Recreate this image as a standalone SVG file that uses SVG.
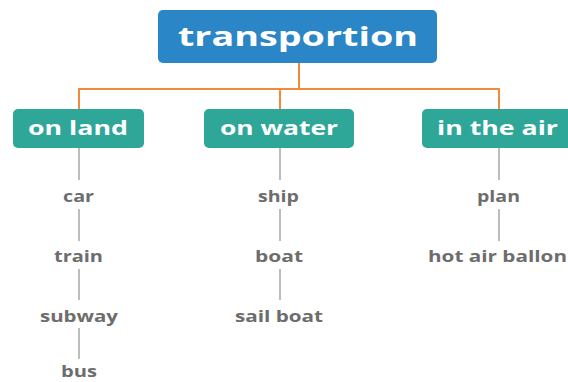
<svg xmlns="http://www.w3.org/2000/svg" width="568" height="382" viewBox="0 0 568 382">
<style>
.root{fill:#2a86c6}
.cat{fill:#2ea698}
.t{font-family:"Open Sans","Liberation Sans",sans-serif;font-weight:bold;text-anchor:middle}
.tw{fill:#ffffff}
.tg{fill:#6d6d6d;font-size:16px}
.or{stroke:#f08a3c;stroke-width:2;fill:none}
.gr{stroke:#9a9a9a;stroke-width:1.3;fill:none}
</style>
<rect width="568" height="382" fill="#ffffff"/>
<g id="connectors">
<path class="or" d="M299 63V89M79 89H499M79 88V109M280 88V109M499 88V109"/>
<path class="gr" d="M79 148V180M79 209V241M79 269V300M79 328V359"/>
<path class="gr" d="M280 148V180M280 209V241M280 269V300"/>
<path class="gr" d="M499 148V180M499 209V241"/>
</g>
<g id="transportion">
<rect class="root" x="158" y="10" width="279" height="53" rx="5"/>
<text class="t tw" x="298" y="46" font-size="27" textLength="240" lengthAdjust="spacingAndGlyphs">transportion</text>
</g>
<g id="on-land">
<rect class="cat" x="13" y="109" width="131" height="39" rx="5"/>
<text class="t tw" x="78" y="135" font-size="20" textLength="100" lengthAdjust="spacingAndGlyphs">on land</text>
</g>
<g id="on-water">
<rect class="cat" x="204" y="109" width="150" height="39" rx="5"/>
<text class="t tw" x="279" y="135" font-size="20" textLength="118" lengthAdjust="spacingAndGlyphs">on water</text>
</g>
<g id="in-the-air">
<rect class="cat" x="422" y="109" width="160" height="39" rx="5"/>
<text class="t tw" x="497.5" y="135" font-size="20" textLength="121" lengthAdjust="spacingAndGlyphs">in the air</text>
</g>
<g id="car"><text class="t tg" x="78.5" y="202" textLength="31" lengthAdjust="spacingAndGlyphs">car</text></g>
<g id="train"><text class="t tg" x="78.5" y="262" textLength="49" lengthAdjust="spacingAndGlyphs">train</text></g>
<g id="subway"><text class="t tg" x="79" y="322" textLength="78" lengthAdjust="spacingAndGlyphs">subway</text></g>
<g id="bus"><text class="t tg" x="79" y="377" textLength="36" lengthAdjust="spacingAndGlyphs">bus</text></g>
<g id="ship"><text class="t tg" x="278.5" y="202" textLength="41" lengthAdjust="spacingAndGlyphs">ship</text></g>
<g id="boat"><text class="t tg" x="279" y="262" textLength="48" lengthAdjust="spacingAndGlyphs">boat</text></g>
<g id="sail-boat"><text class="t tg" x="279" y="322" textLength="88" lengthAdjust="spacingAndGlyphs">sail boat</text></g>
<g id="plan"><text class="t tg" x="498.5" y="202" textLength="43" lengthAdjust="spacingAndGlyphs">plan</text></g>
<g id="hot-air-ballon"><text class="t tg" x="497.5" y="262" textLength="139" lengthAdjust="spacingAndGlyphs">hot air ballon</text></g>
</svg>
